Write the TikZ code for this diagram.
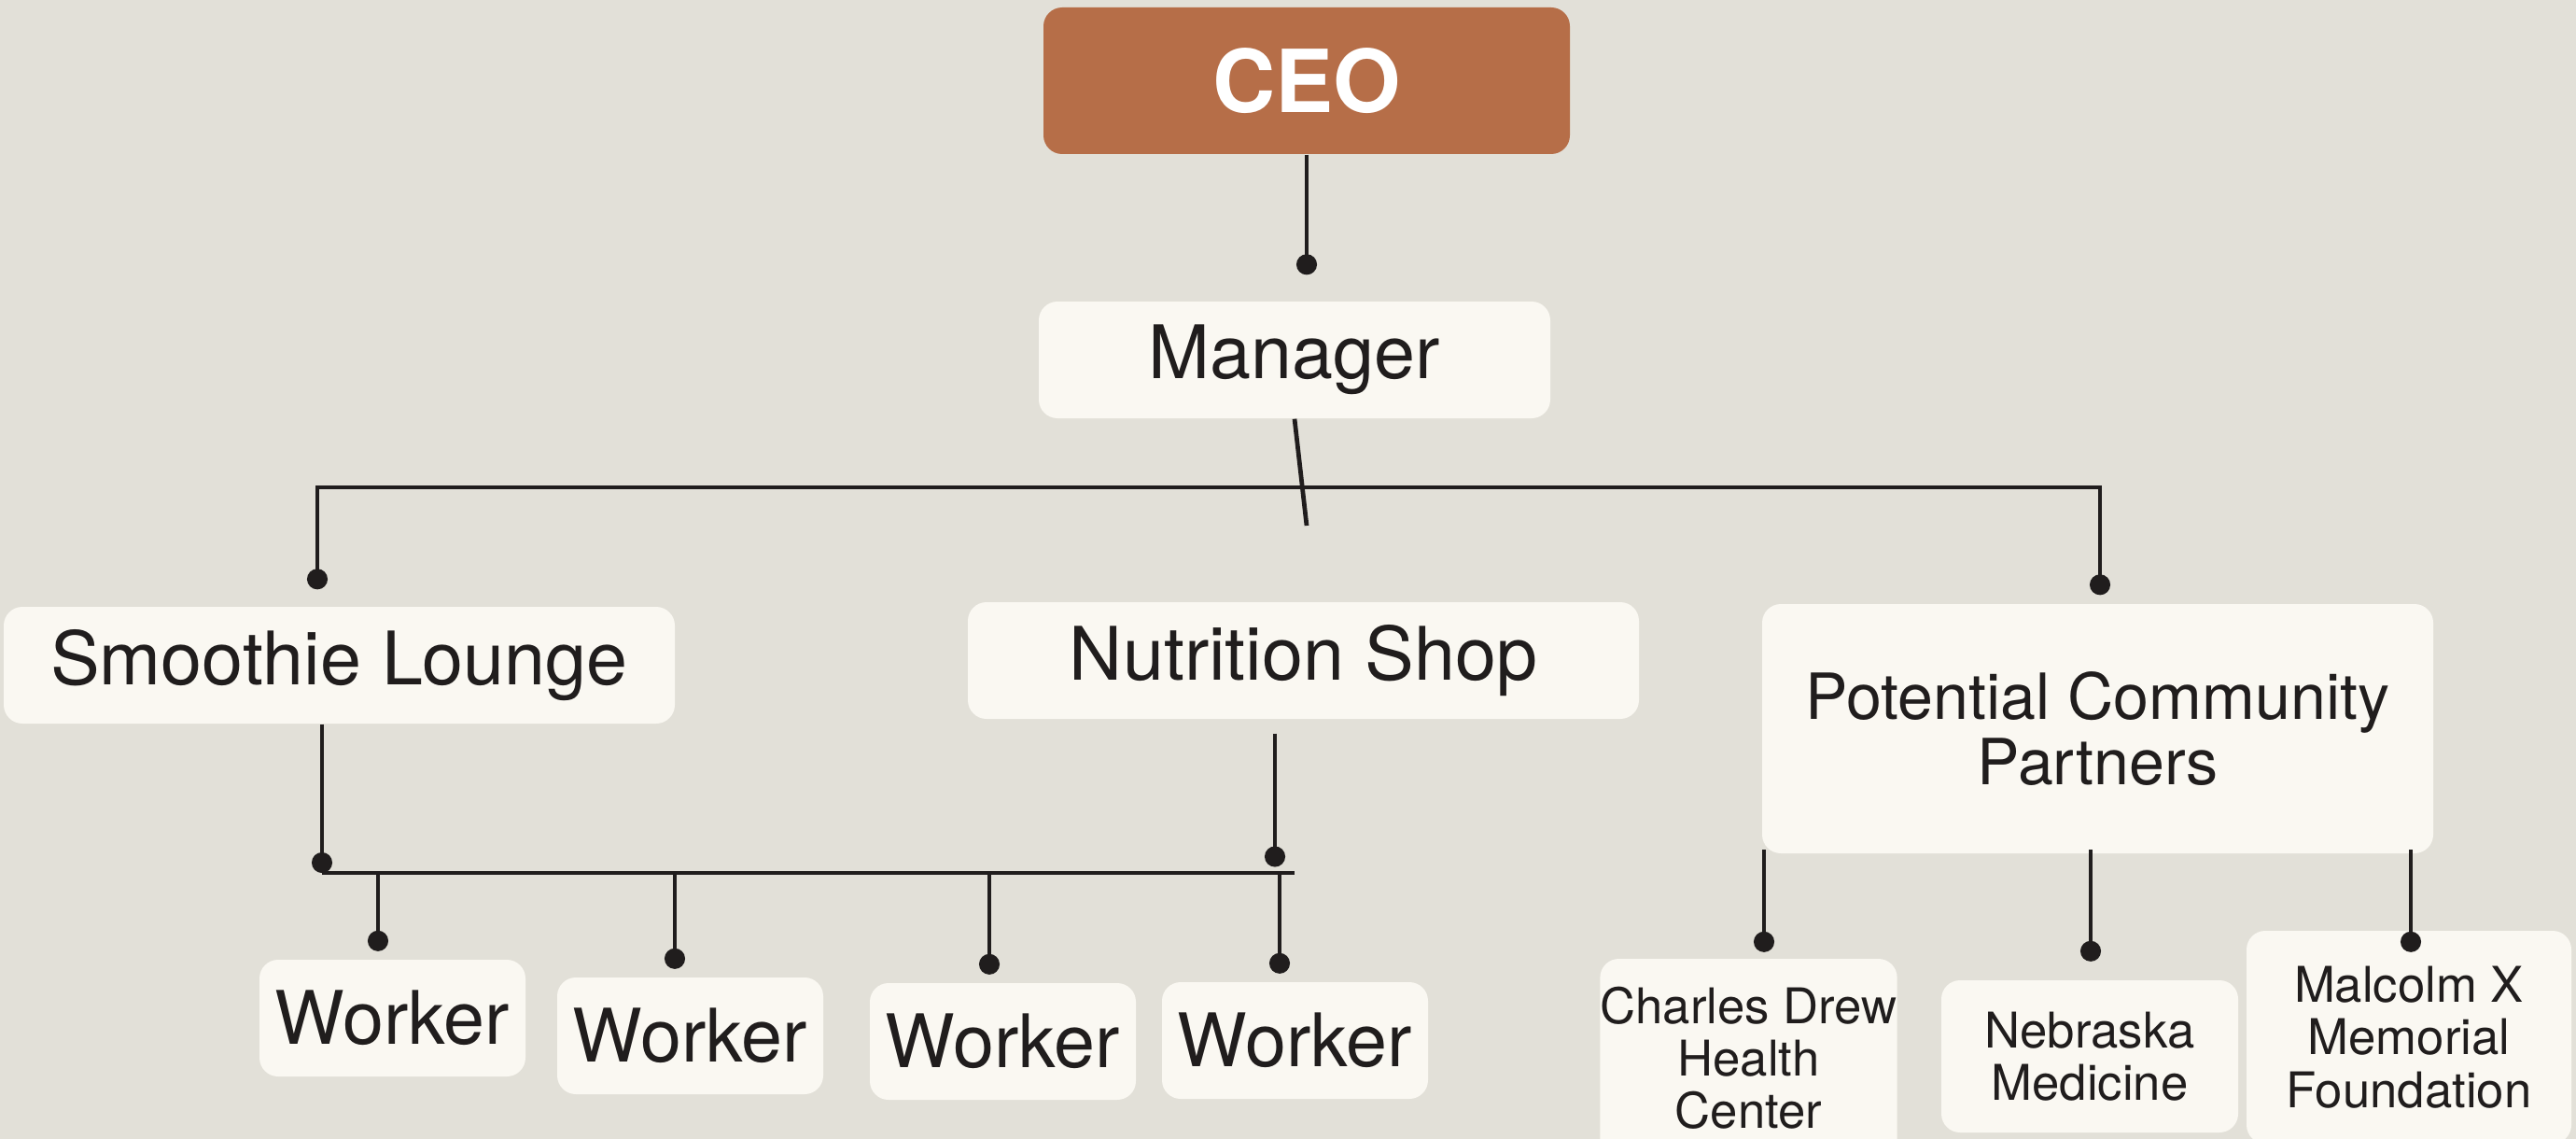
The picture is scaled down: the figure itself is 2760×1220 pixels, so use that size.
\documentclass[tikz,border=0pt]{standalone}
\usepackage{fontspec}
\setmainfont{TeX Gyre Heros}
\usepackage{xcolor}
\usepackage{tikz}
\usetikzlibrary{arrows.meta,positioning,calc}

\definecolor{paperbg}{RGB}{226,224,216}
\definecolor{cardfill}{RGB}{250,248,242}
\definecolor{clay}{RGB}{182,110,72}
\definecolor{ink}{RGB}{32,29,29}

\tikzset{
  card/.style 2 args={rectangle, rounded corners=2mm, fill=cardfill, text=ink,
    inner sep=0pt, align=center, minimum width=#1, minimum height=#2},
  wire/.style={draw=ink, line width=1.35pt},
  link/.style={wire, -{Circle[length=2.2mm]}},
  bigtext/.style={font=\fontsize{22.5}{26}\selectfont},
  midtext/.style={font=\fontsize{19.4}{19.9}\selectfont},
  smalltext/.style={font=\fontsize{15}{16}\selectfont},
}

\begin{document}
\begin{tikzpicture}[x=0.1mm, y=-0.1mm]
  % canvas
  \fill[paperbg] (0,0) rectangle (2760,1220);
  \useasboundingbox (0,0) rectangle (2760,1220);
  \clip (0,0) rectangle (2760,1220);

  % top of the chart
  \node[card={56.4mm}{15.7mm}, fill=clay, text=white,
        font=\fontsize{26.5}{30}\selectfont\bfseries] (ceo) at (1400,86.5) {CEO};
  \node[card={54.8mm}{12.5mm}, bigtext] (manager) at (1387,385.5) {Manager};

  % departments
  \node[card={71.9mm}{12.5mm}, bigtext] (smoothie) at (363.5,712.5) {Smoothie Lounge};
  \node[card={71.9mm}{12.5mm}, bigtext] (nutrition) at (1396.5,707.5) {Nutrition Shop};
  \node[card={71.9mm}{26.7mm}, midtext] (partners) at (2247.5,780.5) {Potential Community\\Partners};

  % staff
  \node[card={28.5mm}{12.5mm}, bigtext] (w1) at (420.5,1090.5) {Worker};
  \node[card={28.5mm}{12.5mm}, bigtext] (w2) at (739.5,1109.5) {Worker};
  \node[card={28.5mm}{12.5mm}, bigtext] (w3) at (1074.5,1115.5) {Worker};
  \node[card={28.5mm}{12.5mm}, bigtext] (w4) at (1387.5,1114.5) {Worker};

  % partner organisations
  \node[card={31.7mm}{21.3mm}, smalltext] (charles) at (1873.5,1133.5) {Charles Drew\\Health\\Center};
  \node[card={31.8mm}{16.3mm}, smalltext] (nebraska) at (2239,1131.5) {Nebraska\\Medicine};
  \node[card={34.8mm}{22.8mm}, smalltext] (malcolm) at (2581,1111) {Malcolm X\\Memorial\\Foundation};

  % ceo down to manager
  \draw[link, shorten >=2.8mm] (ceo.south) -- (ceo.south |- manager.north);

  % manager to the department bus
  \coordinate (mtail) at (1400,563);
  \coordinate (busL) at (340,522);
  \coordinate (busR) at (2250,522);
  \draw[wire] (manager.south) -- (mtail);
  \draw[wire, {Circle[length=2.2mm]}-{Circle[length=2.2mm]}, shorten <=1.8mm, shorten >=0.9mm]
    (busL |- smoothie.north) -- (busL) -- (busR) -- (busR |- partners.north);

  % shared bus for the workers
  \coordinate (wbusL) at (345,935);
  \coordinate (wbusR) at (1387,935);
  \coordinate (ndrop) at (1366,928.5);
  \draw[link] (smoothie.south -| wbusL) -- (wbusL);
  \draw[link, shorten <=1.5mm] (nutrition.south -| ndrop) -- (ndrop);
  \draw[wire] (wbusL) -- (wbusR);
  \foreach \w/\x in {w1/405, w2/723, w3/1060, w4/1371} {
    \coordinate (tap-\w) at (\x,935);
    \draw[link, shorten >=0.85mm] (tap-\w) -- (tap-\w |- \w.north);
  }

  % partners down to each organisation
  \foreach \k/\x/\g in {charles/1890/0.65, nebraska/2240/1.95, malcolm/2583/-2.35} {
    \coordinate (pc-\k) at (\x,910);
    \draw[link, shorten >=\g mm] (pc-\k) -- (pc-\k |- \k.north);
  }
\end{tikzpicture}
\end{document}
